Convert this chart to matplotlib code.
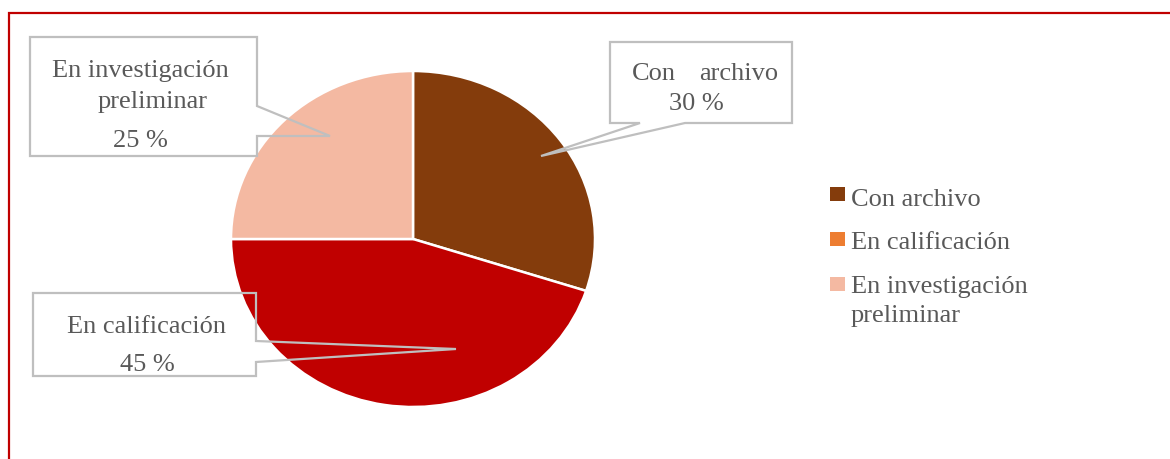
import matplotlib
matplotlib.use("Agg")
import matplotlib.pyplot as plt
import matplotlib.transforms as mtransforms
from matplotlib.patches import Polygon, Rectangle
from matplotlib.lines import Line2D

# ---- data ----
categories = ["Con archivo", "En calificación", "En investigación preliminar"]
values = [30, 45, 25]
pie_colors = ["#843C0C", "#C00000", "#F4B9A2"]
legend_colors = ["#843C0C", "#ED7D31", "#F4B9A2"]
value_labels = [f"{v} %" for v in values]

W, H = 1170, 460
plt.rcParams['font.family'] = ['Liberation Serif', 'DejaVu Serif']
TXT = "#595959"
FS = 19

fig = plt.figure(figsize=(W / 100, H / 100), dpi=100)
fig.patch.set_facecolor("white")
# pixel coordinates (origin top-left)
px = mtransforms.Affine2D().scale(1 / W, -1 / H).translate(0, 1) + fig.transFigure

# red frame (top and left edges visible)
fig.add_artist(Line2D([9, 9, W + 5], [H + 5, 13.5, 13.5], transform=px,
                      color="#C00000", lw=1.6, solid_joinstyle="miter"))

# pie (slightly elliptical as in reference)
ax = fig.add_axes([231 / W, (H - 408) / H, 364 / W, 336 / H])
ax.pie(values, colors=pie_colors, startangle=90, counterclock=False,
       radius=1, wedgeprops=dict(edgecolor="white", linewidth=1.8))
ax.set_aspect("auto")
ax.set_xlim(-1, 1)
ax.set_ylim(-1, 1)
ax.axis("off")

# callout boxes (pixel geometry)
callouts = [
    [(30, 38), (257, 38), (257, 107), (330, 137), (257, 137), (257, 157), (30, 157)],
    [(610, 43), (792, 43), (792, 124), (685, 124), (541, 157), (640, 124), (610, 124)],
    [(33, 294), (256, 294), (256, 342), (456, 350), (256, 363), (256, 377), (33, 377)],
]
for pts in callouts:
    fig.add_artist(Polygon(pts, closed=True, transform=px, facecolor="none",
                           edgecolor="#BFBFBF", lw=1.6, joinstyle="miter"))

def t(x, y, s, ha="left"):
    fig.text(x, y, s, transform=px, ha=ha, va="baseline", fontsize=FS, color=TXT)

# box 1: En investigación preliminar
w3 = categories[2].split(" ")
t(52, 77, " ".join(w3[:2]))
t(98, 108, w3[2])
t(113, 147, value_labels[2])
# box 2: Con archivo (justified)
w1 = categories[0].split(" ")
t(632, 80, w1[0])
t(778, 80, w1[1], ha="right")
t(669, 110, value_labels[0])
# box 3: En calificación
t(67, 333, categories[1])
t(120, 371, value_labels[1])

# legend
leg_rows = [(195, 206, [categories[0]]),
            (240, 249, [categories[1]]),
            (285, 293, [" ".join(w3[:2]), w3[2]])]
for (cy, base, lines), col in zip(leg_rows, legend_colors):
    fig.add_artist(Rectangle((830, cy - 7), 15, 14, transform=px,
                             facecolor=col, edgecolor="none"))
    for i, ln in enumerate(lines):
        t(851, base + i * 29, ln)

fig.savefig("out.png", dpi=100, facecolor="white")
